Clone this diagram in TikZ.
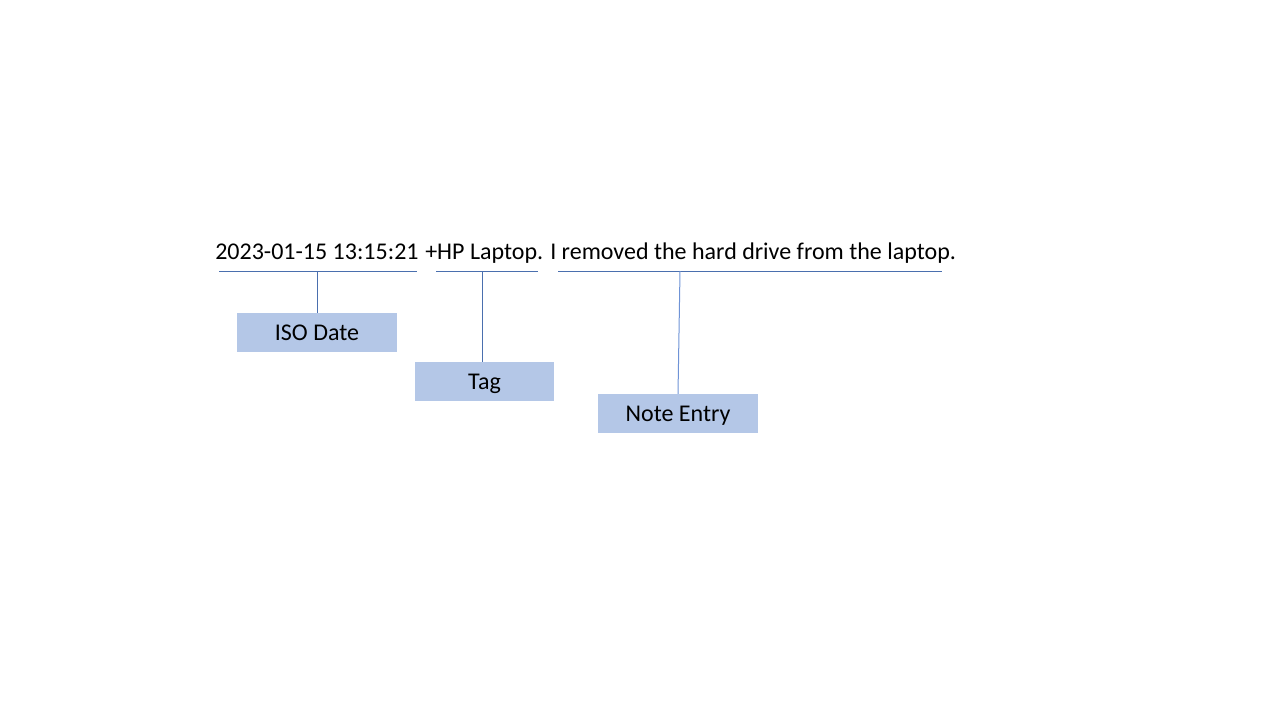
\documentclass[tikz,border=0pt]{standalone}
\usepackage{fontspec}
\setmainfont{Carlito}
\usepackage{xcolor}
\usepackage{tikz}
\definecolor{boxblue}{HTML}{B4C7E7}
\definecolor{lineblue}{HTML}{4A6FAE}
\definecolor{lightline}{HTML}{6F93D6}

\begin{document}
\begin{tikzpicture}[x=0.75pt,y=-0.75pt,
entry/.style={inner sep=0pt,anchor=base west,font=\fontsize{18}{22}\selectfont},
label/.style={fill=boxblue,inner sep=0pt,font=\fontsize{18}{22}\selectfont,minimum height=29pt,text height=14pt,text depth=2pt},
rule/.style={draw=lineblue,line width=0.75pt}
]
\useasboundingbox (0,0) rectangle (1280,720);
\node[entry] (date) at (215,259) {2023-01-15 13:15:21};
\node[entry] (tag) at (425,259) {+HP Laptop.};
\node[entry] (note) at (550,259) {I removed the hard drive from the laptop.};
\coordinate (dateL) at (219,271);
\coordinate (dateR) at (417,271);
\coordinate (tagL) at (436,271);
\coordinate (tagR) at (538,271);
\coordinate (noteL) at (558,271);
\coordinate (noteR) at (942,271);
\coordinate (dateM) at (317,271);
\coordinate (tagM) at (482,271);
\coordinate (noteM) at (680,271);
\node[label,minimum width=120pt] (isodate) at (317,332.5) {ISO Date};
\node[label,minimum width=104pt] (tagbox) at (484.5,381.5) {Tag};
\node[label,minimum width=120pt] (notebox) at (678,413.5) {Note Entry};
\draw[rule] (dateL) -- (dateR);
\draw[rule] (tagL) -- (tagR);
\draw[rule] (noteL) -- (noteR);
\draw[rule] (dateM) -- (isodate.north);
\draw[rule] (tagM) -- (tagM |- tagbox.north);
\draw[rule,draw=lightline] (noteM) -- (notebox.north);
\end{tikzpicture}
\end{document}
